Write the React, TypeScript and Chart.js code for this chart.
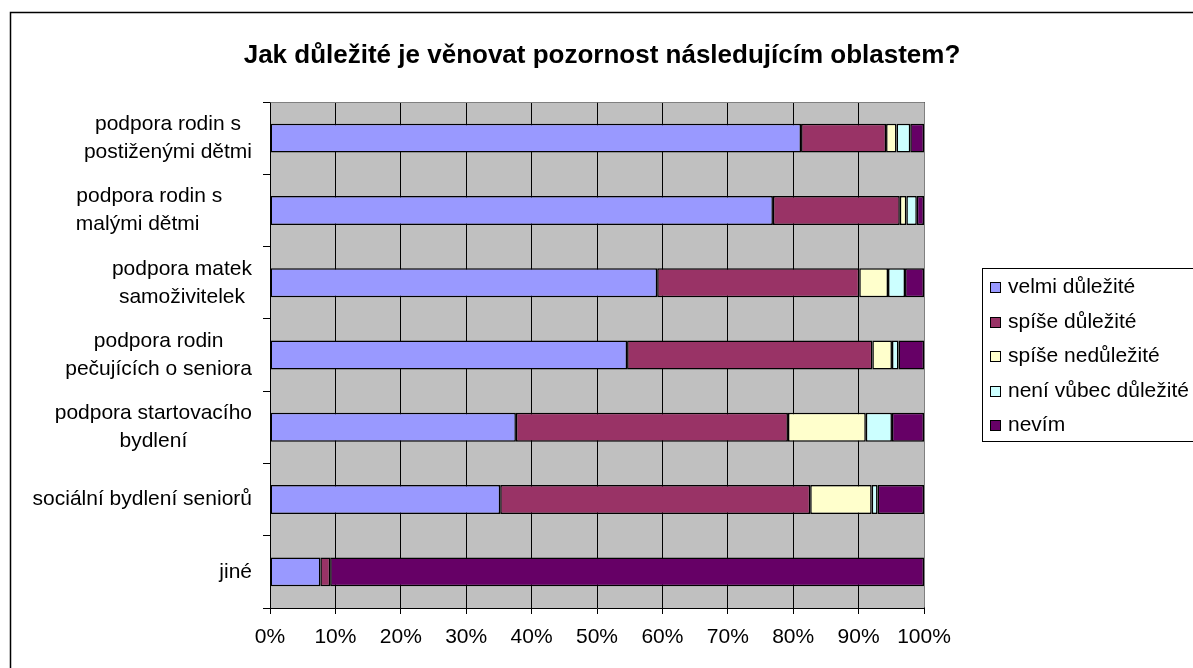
import React, { useEffect, useRef } from "react";
import { Chart, registerables } from "chart.js";

Chart.register(...registerables);

const title = "Jak důležité je věnovat pozornost následujícím oblastem?";

const categories: string[][] = [
  ["podpora rodin s", "postiženými dětmi"],
  ["podpora rodin s     ", "malými dětmi         "],
  ["podpora matek", "samoživitelek"],
  ["podpora rodin", "pečujících o seniora"],
  ["podpora startovacího", "bydlení"],
  ["sociální bydlení seniorů"],
  ["jiné"],
];

const seriesNames = [
  "velmi důležité",
  "spíše důležité",
  "spíše nedůležité",
  "není vůbec důležité",
  "nevím",
];

const velmiDulezite = [81.2, 76.9, 59.2, 54.6, 37.6, 35.2, 7.7];
const spiseDulezite = [13.0, 19.4, 30.9, 37.5, 41.6, 47.4, 1.5];
const spiseNedulezite = [1.6, 1.0, 4.4, 3.0, 11.9, 9.4, 0];
const neniVubecDulezite = [2.1, 1.6, 2.6, 1.0, 4.0, 0.9, 0];
const nevim = [2.1, 1.1, 2.9, 3.9, 4.9, 7.1, 90.8];

const xTicks = [0, 10, 20, 30, 40, 50, 60, 70, 80, 90, 100];

const colors = ["#9999FF", "#993366", "#FFFFCC", "#CCFFFF", "#660066"];

const FONT = "'Liberation Sans', Arial, sans-serif";

export default function App() {
  const ref = useRef<HTMLCanvasElement | null>(null);

  useEffect(() => {
    const canvas = ref.current;
    if (!canvas) return;
    const values = [velmiDulezite, spiseDulezite, spiseNedulezite, neniVubecDulezite, nevim];

    const decor = {
      id: "decor",
      beforeDraw(chart: any) {
        const { ctx, chartArea } = chart;
        ctx.save();
        ctx.fillStyle = "#ffffff";
        ctx.fillRect(0, 0, chart.width, chart.height);
        ctx.strokeStyle = "#000";
        ctx.lineWidth = 1.5;
        ctx.strokeRect(10.5, 12.5, 1400, 900);
        ctx.fillStyle = "#C0C0C0";
        ctx.fillRect(chartArea.left, chartArea.top, chartArea.right - chartArea.left, chartArea.bottom - chartArea.top);
        // title
        ctx.fillStyle = "#000";
        ctx.font = "bold 26px " + FONT;
        ctx.textAlign = "center";
        ctx.textBaseline = "alphabetic";
        ctx.fillText(title, 602, 63);
        ctx.restore();
      },
      beforeDatasetsDraw(chart: any) {
        const { ctx, chartArea } = chart;
        ctx.save();
        ctx.strokeStyle = "#808080";
        ctx.lineWidth = 1;
        ctx.beginPath();
        ctx.moveTo(Math.round(chartArea.left) + 0.5, Math.round(chartArea.top) + 0.5);
        ctx.lineTo(Math.round(chartArea.right) + 0.5, Math.round(chartArea.top) + 0.5);
        ctx.lineTo(Math.round(chartArea.right) + 0.5, Math.round(chartArea.bottom) - 0.5);
        ctx.stroke();
        ctx.restore();
      },
      afterDraw(chart: any) {
        const { ctx } = chart;
        const yScale = chart.scales.y;
        ctx.save();
        ctx.fillStyle = "#000";
        ctx.font = "21px " + FONT;
        ctx.textBaseline = "middle";
        ctx.textAlign = "center";
        const right = 252;
        const lh = 28;
        categories.forEach((lines, i) => {
          const yc = yScale.getPixelForValue(i);
          const maxW = Math.max(...lines.map((l) => ctx.measureText(l).width));
          const cx = right - maxW / 2;
          lines.forEach((l, k) => {
            ctx.fillText(l, cx, yc + (k - (lines.length - 1) / 2) * lh);
          });
        });
        // legend
        ctx.strokeStyle = "#000";
        ctx.lineWidth = 1;
        ctx.strokeRect(982.5, 268.5, 400, 173);
        ctx.textAlign = "left";
        seriesNames.forEach((name, i) => {
          const y = 287.5 + i * 34.5;
          ctx.fillStyle = colors[i];
          ctx.fillRect(990, Math.round(y - 5.5), 11, 11);
          ctx.strokeStyle = "#000";
          ctx.strokeRect(990.5, Math.round(y - 5.5) + 0.5, 10, 10);
          ctx.fillStyle = "#000";
          ctx.fillText(name, 1008, y);
        });
        ctx.restore();
      },
    };

    const chart = new Chart(canvas, {
      type: "bar",
      data: {
        labels: categories.map((c) => c.join(" ")),
        datasets: seriesNames.map((name, i) => ({
          label: name,
          data: values[i],
          backgroundColor: colors[i],
          borderColor: "#000",
          borderWidth: 1.5,
          borderSkipped: false,
          categoryPercentage: 0.4,
          barPercentage: 1,
        })),
      },
      options: {
        indexAxis: "y",
        responsive: false,
        animation: false,
        devicePixelRatio: 1,
        layout: { padding: { left: 263, right: 269, top: 102, bottom: 0 } },
        plugins: {
          legend: { display: false },
          title: { display: false },
          tooltip: { enabled: false },
        },
        scales: {
          x: {
            stacked: true,
            min: 0,
            max: 100,
            afterBuildTicks: (s: any) => {
              s.ticks = xTicks.map((v) => ({ value: v }));
            },
            afterFit: (s: any) => {
              s.height = 60;
            },
            ticks: {
              stepSize: 10,
              color: "#000",
              font: { size: 21, family: FONT },
              padding: 11,
              maxRotation: 0,
              autoSkip: false,
              callback: (v: any) => v + "%",
            },
            grid: {
              color: "#000",
              lineWidth: 1,
              tickLength: 6,
              drawOnChartArea: true,
              drawTicks: true,
            },
            border: { display: true, color: "#000", width: 1 },
          },
          y: {
            stacked: true,
            afterFit: (s: any) => {
              s.width = 7;
            },
            ticks: { display: false },
            grid: {
              offset: true,
              drawOnChartArea: false,
              drawTicks: true,
              tickLength: 7,
              color: "#000",
              lineWidth: 1,
            },
            border: { display: true, color: "#000", width: 1 },
          },
        },
      },
      plugins: [decor],
    } as any);

    return () => chart.destroy();
  }, []);

  return (
    <div style={{ position: "fixed", left: 0, top: 0, width: 1193, height: 668, overflow: "hidden", background: "#fff" }}>
      <canvas ref={ref} width={1193} height={668} style={{ display: "block", width: 1193, height: 668 }} />
    </div>
  );
}
